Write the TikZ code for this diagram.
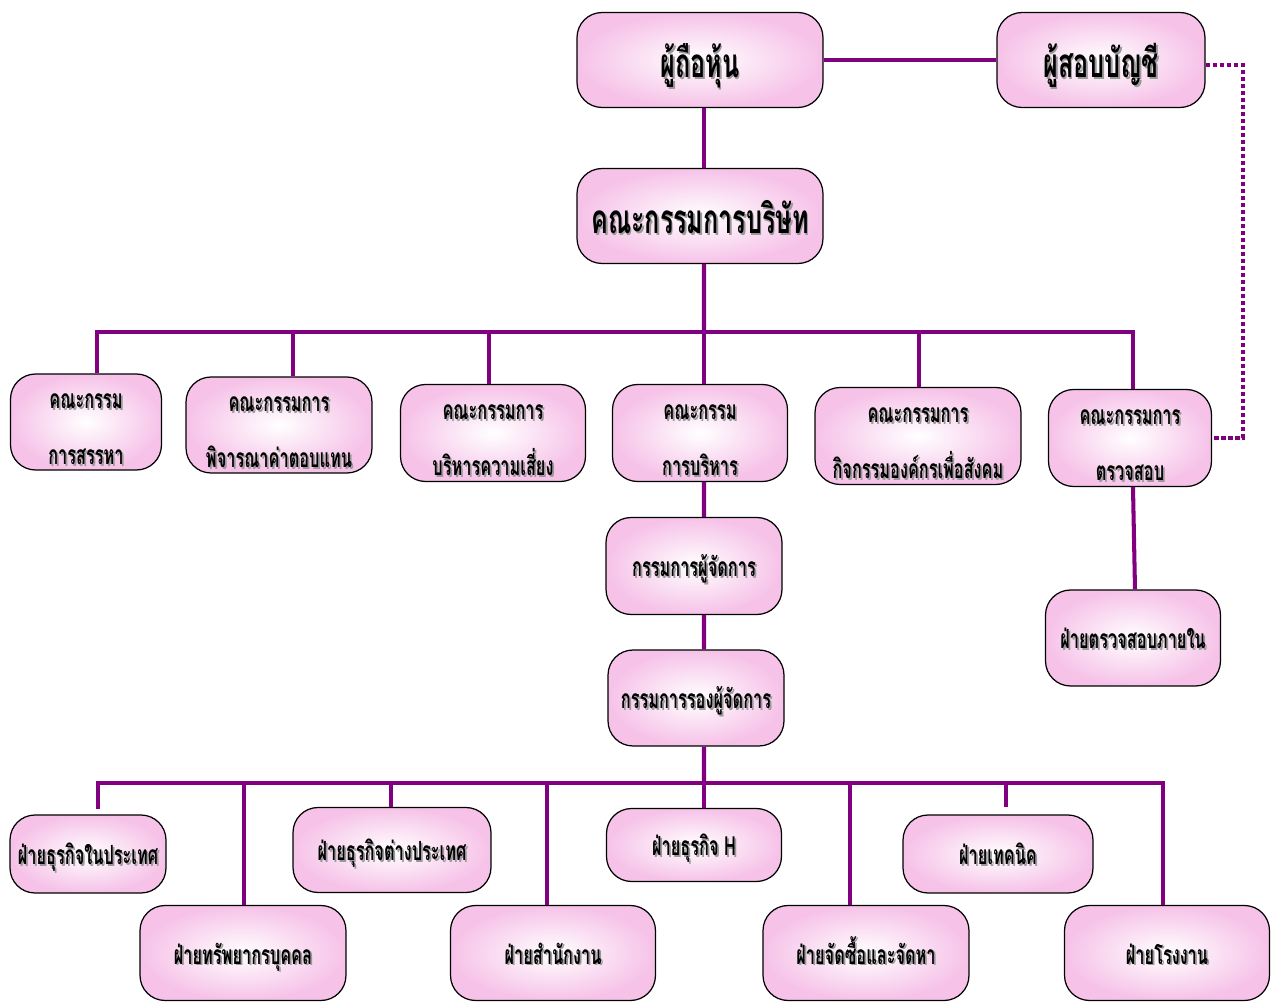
\documentclass[tikz,border=0pt]{standalone}
\usepackage{fontspec}
\newfontfamily\thaifont[Script=Thai,FakeStretch=0.62]{Loma}
\usepackage{tikz}
\usetikzlibrary{positioning,shadings}
\definecolor{orgline}{RGB}{128,0,128}
\definecolor{boxpink}{RGB}{246,194,232}
% text with a soft grey drop shadow
\newcommand\shtext[1]{\makebox[0pt][l]{\hspace{0.035cm}\raisebox{-0.035cm}[0pt][0pt]{\textcolor{black!40}{#1}}}#1}
% two lines, pushed a little towards the bottom of the box
\newcommand\twoline[2]{\rule{0pt}{0.68cm}\shtext{#1}\\\shtext{#2}\rule[-0.1cm]{0pt}{0.1cm}}
\tikzset{
    orgbox/.style={draw=black, line width=0.7pt, rounded corners=0.5cm,
        inner color=white, outer color=boxpink, inner sep=0pt, align=center,
        text height=0.6cm, text depth=0.16cm,
        font=\thaifont\bfseries\fontsize{15}{32}\selectfont},
    bigbox/.style={orgbox, minimum width=4.92cm, minimum height=1.9cm,
        text height=0.9cm, text depth=0.18cm,
        font=\thaifont\bfseries\fontsize{23}{27}\selectfont},
    twobox/.style={orgbox, text height=, text depth=},
    link/.style={draw=orgline, line width=2.3pt},
    dotlink/.style={draw=orgline, line width=2.3pt, dash pattern=on 0.09cm off 0.05cm}
}
\begin{document}
\begin{tikzpicture}[x=0.02cm,y=-0.02cm]
    \useasboundingbox (0,0) rectangle (1279,1003);
    % top level
    \node[bigbox] (holders) at (700,60) {\shtext{ผู้ถือหุ้น}};
    \node[bigbox, minimum width=4.16cm] (auditor) at (1101,60) {\shtext{ผู้สอบบัญชี}};
    \node[bigbox] (board) at (700,216) {\shtext{คณะกรรมการบริษัท}};
    % committees
    \node[twobox, minimum width=3.02cm, minimum height=1.92cm] (nomin) at (86,422)
        {\twoline{คณะกรรม}{การสรรหา}};
    \node[twobox, minimum width=3.72cm, minimum height=1.92cm] (remun) at (279,425)
        {\twoline{คณะกรรมการ}{พิจารณาค่าตอบแทน}};
    \node[twobox, minimum width=3.70cm, minimum height=1.94cm] (risk) at (493,433)
        {\twoline{คณะกรรมการ}{บริหารความเสี่ยง}};
    \node[twobox, minimum width=3.50cm, minimum height=1.94cm] (exec) at (700,433)
        {\twoline{คณะกรรม}{การบริหาร}};
    \node[twobox, minimum width=4.12cm, minimum height=1.94cm] (csr) at (918,436)
        {\twoline{คณะกรรมการ}{กิจกรรมองค์กรเพื่อสังคม}};
    \node[twobox, minimum width=3.26cm, minimum height=1.94cm] (audit) at (1130,438)
        {\twoline{คณะกรรมการ}{ตรวจสอบ}};
    % management
    \node[orgbox, minimum width=3.52cm, minimum height=1.94cm] (md) at (694,566) {\shtext{กรรมการผู้จัดการ}};
    \node[orgbox, minimum width=3.52cm, minimum height=1.92cm] (dmd) at (696,698) {\shtext{กรรมการรองผู้จัดการ}};
    \node[orgbox, minimum width=3.50cm, minimum height=1.92cm] (inaudit) at (1133,638) {\shtext{ฝ่ายตรวจสอบภายใน}};
    % departments
    \node[orgbox, minimum width=3.12cm, minimum height=1.56cm] (domestic) at (88,854) {\shtext{ฝ่ายธุรกิจในประเทศ}};
    \node[orgbox, minimum width=3.96cm, minimum height=1.70cm] (overseas) at (392,850) {\shtext{ฝ่ายธุรกิจต่างประเทศ}};
    \node[orgbox, minimum width=3.50cm, minimum height=1.46cm] (bizh) at (694,845) {\shtext{ฝ่ายธุรกิจ H}};
    \node[orgbox, minimum width=3.80cm, minimum height=1.56cm] (tech) at (998,854) {\shtext{ฝ่ายเทคนิค}};
    \node[orgbox, minimum width=4.12cm, minimum height=1.90cm] (hr) at (243,953) {\shtext{ฝ่ายทรัพยากรบุคคล}};
    \node[orgbox, minimum width=4.10cm, minimum height=1.90cm] (office) at (553,953) {\shtext{ฝ่ายสำนักงาน}};
    \node[orgbox, minimum width=4.12cm, minimum height=1.90cm] (purch) at (866,953) {\shtext{ฝ่ายจัดซื้อและจัดหา}};
    \node[orgbox, minimum width=4.10cm, minimum height=1.90cm] (plant) at (1167,953) {\shtext{ฝ่ายโรงงาน}};

    \coordinate (bus1) at (704,332);
    \coordinate (bus2) at (704,783);

    % connectors
    \draw[link] (holders) -- (auditor);
    \draw[link] ([xshift=0.08cm]holders.south) -- ([xshift=0.08cm]board.north);
    \draw[link] ([xshift=0.08cm]board.south) -- (bus1);
    \draw[link] ([xshift=0.22cm]nomin.north) |- (bus1) -| ([xshift=0.06cm]audit.north);
    \foreach \c/\dx in {remun/0.28, risk/-0.08, exec/0.08, csr/0.02}
        \draw[link] ([xshift=\dx cm]\c.north) -- ([xshift=\dx cm]\c.north |- bus1);
    \draw[dotlink] ([yshift=-0.1cm]auditor.east) -- ++(0.74cm,0) |- (audit.east);
    \draw[link] ([xshift=0.08cm]exec.south) -- ([xshift=0.2cm]md.north);
    \draw[link] ([xshift=0.2cm]md.south) -- ([xshift=0.16cm]dmd.north);
    \draw[link] ([xshift=0.06cm]audit.south) -- ([xshift=0.04cm]inaudit.north);
    \draw[link] ([xshift=0.16cm]dmd.south) -- (bus2);
    \draw[link, shorten <=0.1cm] ([xshift=0.2cm]domestic.north) |- (bus2) -| ([xshift=-0.08cm]plant.north);
    \foreach \c/\dx in {hr/0.02, overseas/-0.02, office/-0.12, bizh/0.2, purch/-0.32}
        \draw[link] ([xshift=\dx cm]\c.north) -- ([xshift=\dx cm]\c.north |- bus2);
    \draw[link, shorten <=0.14cm] ([xshift=0.16cm]tech.north) -- ([xshift=0.16cm]tech.north |- bus2);
\end{tikzpicture}
\end{document}
